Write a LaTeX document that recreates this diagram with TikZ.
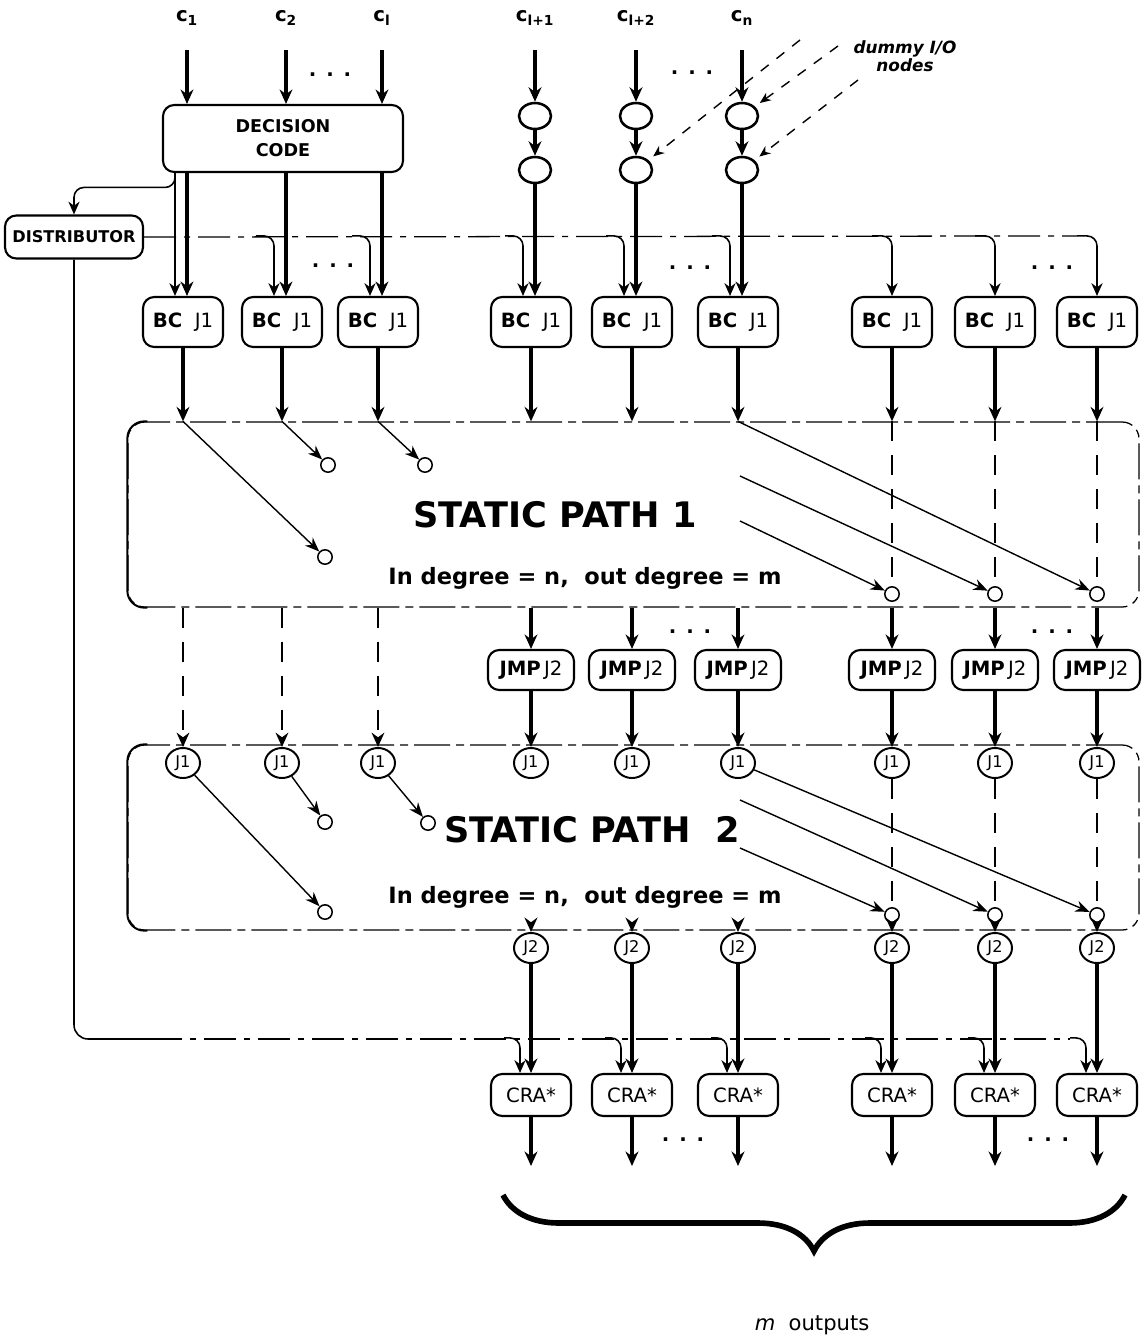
\documentclass[tikz,border=0pt]{standalone}
\usepackage{fontspec}
\setmainfont{DejaVu Sans}
\usetikzlibrary{arrows.meta,shapes.geometric,decorations.pathreplacing,calc}

\begin{document}
\begin{tikzpicture}[x=.25mm,y=-.25mm,
 box/.style={draw,rounded corners=8pt,line width=1.5pt,inner sep=1pt,font=\fontsize{14}{15}\selectfont},
 bcbox/.style={box,minimum width=20mm,minimum height=12.5mm},
 jmpbox/.style={box,minimum width=21.5mm,minimum height=10mm},
 crabox/.style={box,minimum width=20mm,minimum height=10.5mm},
 jn/.style={draw,ellipse,line width=1.4pt,minimum width=8.5mm,minimum height=7.5mm,inner sep=0pt,font=\fontsize{11.5}{11.5}\selectfont},
 dum/.style={draw,ellipse,line width=1.8pt,minimum width=8mm,minimum height=6.5mm},
 port/.style={draw,circle,line width=1.1pt,minimum size=3.6mm,inner sep=0pt},
 pathbox/.style={draw,line width=.9pt,rounded corners=12pt,minimum width=252.75mm,minimum height=46.25mm,
   dash pattern=on 9mm off 1.5mm on 2mm off 1.5mm},
 rim/.style={line width=1.4pt,rounded corners=12pt},
 flow/.style={line width=2.8pt,-{Stealth[length=3.6mm,width=3.2mm]}},
 tap/.style={line width=1.1pt,rounded corners=7pt,-{Stealth[length=3.2mm,width=2.8mm]}},
 cross/.style={line width=1pt,-{Stealth[length=3.6mm,width=2.8mm]}},
 guide/.style={line width=1.2pt,dash pattern=on 5mm off 3.5mm},
 bus/.style={line width=.9pt,dash pattern=on 8mm off 2mm on 1.5mm off 2mm},
 ptr/.style={line width=1pt,dash pattern=on 2.5mm off 2.5mm,-{Stealth[length=2.8mm,width=2.3mm]}},
 lbl/.style={font=\bfseries\fontsize{14}{14}\selectfont},
 pathname/.style={font=\bfseries\fontsize{25}{25}\selectfont},
 degtext/.style={font=\bfseries\fontsize{16}{16}\selectfont},
 dotrow/.style={font=\bfseries\fontsize{14}{14}\selectfont}]
\useasboundingbox (0,0) rectangle (1141,1340);
% decision code, distributor and the first row of boxes
\node[box,minimum width=60mm,minimum height=16.75mm,align=center,font=\bfseries\fontsize{12.5}{17}\selectfont] (dc) at (283,138.5) {DECISION\\CODE};
\node[box,minimum width=34.5mm,minimum height=10.75mm,font=\bfseries\fontsize{11.5}{11.5}\selectfont] (dist) at (74,237) {DISTRIBUTOR};
\foreach \i/\x in {1/183,2/282,3/378,4/531,5/632,6/738,7/892,8/995,9/1097}
  \node[bcbox] (bc\i) at (\x,322) {\textbf{BC}\ \ J1};
\foreach \i/\x/\t in {1/183/1,2/282/2,3/378/l,4/531/l+1,5/632/l+2,6/738/n}
  \node[lbl] (c\i) at (\x+4,18) {c\textsubscript{\t}};
\node[pathbox] (sp1) at (633.5,514.5) {};
\node[pathbox] (sp2) at (633.5,837.5) {};
\draw[rim] ($(sp1.north west)+(20,0)$) -- (sp1.north west) -- (sp1.south west) -- ($(sp1.south west)+(20,0)$);
\draw[rim] ($(sp2.north west)+(20,0)$) -- (sp2.north west) -- (sp2.south west) -- ($(sp2.south west)+(20,0)$);
% inputs
\foreach \i in {1,2,3}{
  \draw[flow] ($(c\i.south)+(0,20)$) -- (c\i |- dc.north);
  \draw[flow] (c\i |- dc.south) -- (c\i |- bc\i.north);
}
\foreach \i in {4,5,6}{
  \node[dum] (dua\i) at (c\i |- 0,116) {};
  \node[dum] (dub\i) at (c\i |- 0,170) {};
  \draw[flow] ($(c\i.south)+(0,20)$) -- (dua\i);
  \draw[flow] (dua\i) -- (dub\i);
  \draw[flow] (dub\i) -- (dub\i |- bc\i.north);
}
\node[font=\bfseries\itshape\fontsize{12}{13}\selectfont,align=center] (dumlab) at (905,56) {dummy I/O\\nodes};
\coordinate (pt5) at (800,40);
\coordinate (pt6a) at (838,46);
\coordinate (pt6b) at (858,80);
\draw[ptr,shorten >=1.5mm] (pt5) -- (dub5);
\draw[ptr,shorten >=1.5mm] (pt6a) -- (dua6);
\draw[ptr,shorten >=1.5mm] (pt6b) -- (dub6);
% distributor lines
\coordinate (fb) at ($(bc1.north)+(-8,0)$);
\draw[tap] (fb |- dc.south) -- (fb);
\draw[tap] (fb |- dc.south) |- ($(dist.north)+(0,-27)$) -- (dist.north);
\draw[bus] (dist.east) -- ($(bc9.north)+(-20,-60)$);
\foreach \i in {2,...,6}
  \draw[tap] ($(bc\i.north)+(-26,-60)$) -| ($(bc\i.north)+(-8,0)$);
\foreach \i in {7,8,9}
  \draw[tap] ($(bc\i.north)+(-20,-60)$) -| (bc\i.north);
\coordinate (bend2) at (150,1039);
\draw[tap,-,rounded corners=10pt] (dist.south) |- (bend2);
% static path 1
\foreach \i in {1,...,9}
  \draw[flow] (bc\i.south) -- (bc\i.south |- sp1.north);
\node[port] (pa1) at (325,557) {};
\node[port] (pa2) at (328,465) {};
\node[port] (pa3) at (425,465) {};
\foreach \i in {7,8,9} \node[port] (pb\i) at (bc\i |- 0,594) {};
\foreach \i in {1,2,3} \draw[cross] (bc\i.south |- sp1.north) -- (pa\i);
\coordinate (sa8) at (740,476);
\coordinate (sa7) at (740,521);
\draw[cross] (bc6.south |- sp1.north) -- (pb9);
\draw[cross] (sa8) -- (pb8);
\draw[cross] (sa7) -- (pb7);
\foreach \i in {7,8,9} \draw[guide] (bc\i.south |- sp1.north) -- (pb\i);
\node[pathname] (name1) at (555,515) {STATIC PATH 1};
\node[degtext] (deg1) at (585,578) {In degree = n,\ \ out degree = m};
% jumps
\foreach \i in {1,...,9} \node[jn] (ja\i) at (bc\i |- 0,763) {J1};
\foreach \i in {4,...,9}{
  \node[jmpbox] (jmp\i) at (bc\i |- 0,670) {\textbf{JMP}\,J2};
  \draw[flow] (bc\i.south |- sp1.south) -- (jmp\i);
  \draw[flow] (jmp\i) -- (ja\i);
}
\foreach \i in {1,2,3}
  \draw[guide,-{Stealth[length=3.6mm,width=3.2mm]}] (bc\i.south |- sp1.south) -- (ja\i);
% static path 2
\node[port] (pc1) at (325,912) {};
\node[port] (pc2) at (325,822) {};
\node[port] (pc3) at (428,823) {};
\foreach \i in {7,8,9} \node[port] (pd\i) at (bc\i |- 0,915) {};
\foreach \i in {1,2,3} \draw[cross] (ja\i) -- (pc\i);
\coordinate (sb8) at (740,800);
\coordinate (sb7) at (740,848);
\draw[cross] (ja6) -- (pd9);
\draw[cross] (sb8) -- (pd8);
\draw[cross] (sb7) -- (pd7);
\foreach \i in {7,8,9} \draw[guide] (ja\i) -- (pd\i);
\node[pathname] (name2) at (592,830) {STATIC PATH\ \ 2};
\node[degtext] (deg2) at (585,897) {In degree = n,\ \ out degree = m};
% outputs
\draw[bus] (bend2) -- ($(bc9 |- 0,1074)+(-27,-35)$);
\foreach \i in {4,...,9}{
  \node[jn] (jb\i) at (bc\i |- 0,948) {J2};
  \node[crabox] (cra\i) at (bc\i |- 0,1095) {CRA*};
  \coordinate (out\i) at (bc\i |- 0,1166);
  \draw[flow] ($(bc\i.south |- sp2.south)+(0,-6)$) -- (jb\i);
  \draw[flow] (jb\i) -- (jb\i |- cra\i.north);
  \draw[tap] ($(cra\i.north)+(-27,-35)$) -| ($(cra\i.north)+(-11,0)$);
  \draw[flow] (cra\i) -- (out\i);
}
\foreach \x/\y [count=\k] in {330/75,692/73,333/266,690/268,1052/268,690/632,1052/632,683/1140,1048/1140}
  \node[dotrow] (dots\k) at (\x,\y) {.\hspace{2.5mm}.\hspace{2.5mm}.};
\coordinate (brl) at (503,1195);
\coordinate (brr) at (1125,1195);
\draw[line width=4pt,decorate,decoration={brace,mirror,amplitude=14mm}] (brl) -- (brr);
\node[font=\fontsize{15}{15}\selectfont] (outs) at (812,1325) {\textit{m}\ \ outputs};
\end{tikzpicture}
\end{document}
